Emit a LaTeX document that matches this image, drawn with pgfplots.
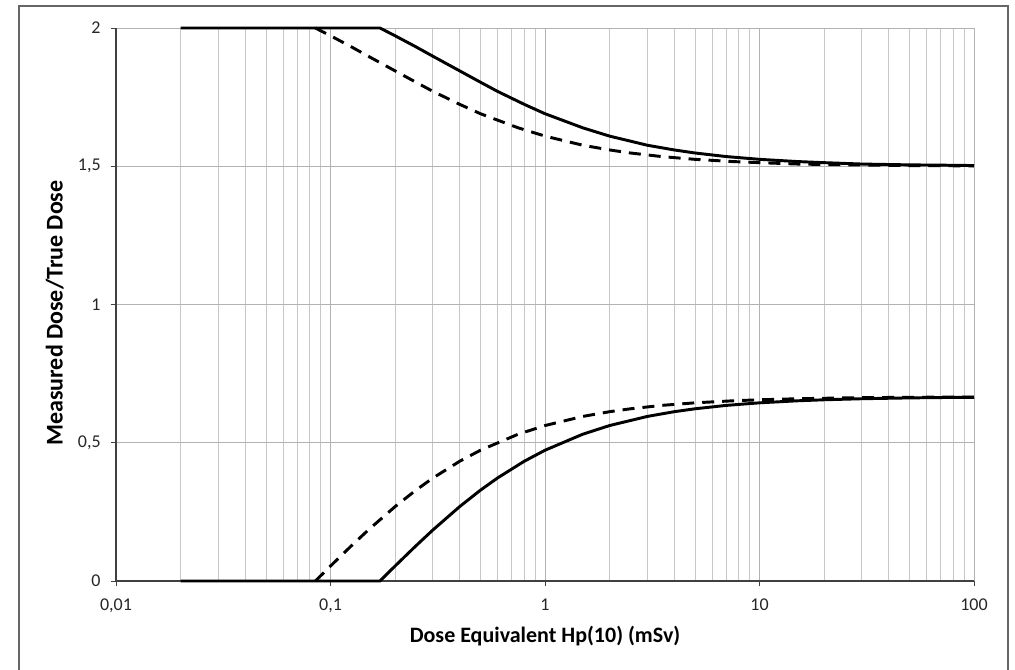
\documentclass[border=0pt]{standalone}
\usepackage{pgfplots}
\pgfplotsset{compat=1.18}
\usepackage{fontspec}
\setmainfont{Carlito}
\begin{document}
\begin{tikzpicture}
\useasboundingbox (0pt,0pt) rectangle (761.25pt,501.75pt);
\begin{scope}
\clip (0pt,0pt) rectangle (761.25pt,501.75pt);
\draw[gray!80!black, line width=1.1pt] (14.25pt,-10pt) rectangle (756pt,497.25pt);
\end{scope}
\begin{axis}[
  at={(87pt,66pt)}, anchor=south west,
  scale only axis, width=643.5pt, height=414.75pt,
  xmode=log, xmin=0.01, xmax=100, ymin=0, ymax=2,
  axis x line*=bottom, axis y line*=left,
  axis line style={black!75, line width=0.8pt},
  xtick={0.01,0.1,1,10,100},
  xticklabels={0{,}01,0{,}1,1,10,100},
  ytick={0,0.5,1,1.5,2},
  yticklabels={0,{0,5},1,{1,5},2},
  tick align=outside, major tick length=4pt, minor tick length=0pt,
  tick style={black!75, line width=0.6pt},
  grid=both,
  major grid style={black!30, line width=0.6pt},
  minor grid style={black!22, line width=0.6pt},
  tick label style={font=\fontsize{13.5}{15}\selectfont, text=black!85},
  xticklabel style={yshift=-6pt},
  yticklabel style={xshift=-4pt},
  xlabel={Dose Equivalent Hp(10) (mSv)},
  ylabel={Measured Dose/True Dose},
  xlabel style={font=\fontsize{16.5}{19}\selectfont\bfseries, at={(axis description cs:0.5,-0.099)}, anchor=center},
  ylabel style={font=\fontsize{18}{20}\selectfont\bfseries, at={(axis description cs:-0.0715,0.4846)}, anchor=center},
  clip=false,
]
% solid, lower
\addplot[black, line width=2.2pt] coordinates {
(0.02,0) (0.17,0) (0.2,0.0541) (0.25,0.1270) (0.3,0.1844) (0.4,0.2690) (0.5,0.3284) (0.6,0.3723) (0.8,0.4330) (1,0.4729) (1.5,0.5309) (2,0.5622) (3,0.5952) (4,0.6123) (5,0.6228) (7,0.6351) (10,0.6444) (15,0.6517) (20,0.6554) (30,0.6592) (50,0.6622) (70,0.6635) (100,0.6644)};
% solid, upper
\addplot[black, line width=2.2pt] coordinates {
(0.02,2) (0.17,2) (0.2,1.972) (0.25,1.932) (0.3,1.898) (0.4,1.845) (0.5,1.804) (0.6,1.771) (0.8,1.724) (1,1.690) (1.5,1.639) (2,1.609) (3,1.576) (4,1.559) (5,1.548) (7,1.535) (10,1.525) (15,1.517) (20,1.513) (30,1.508) (50,1.505) (70,1.504) (100,1.5025)};
% dashed, lower
\addplot[black, line width=2.2pt, dash pattern=on 9pt off 6pt] coordinates {
(0.085,0) (0.1,0.0541) (0.125,0.1270) (0.15,0.1844) (0.2,0.2690) (0.25,0.3284) (0.3,0.3723) (0.4,0.4330) (0.5,0.4729) (0.75,0.5309) (1,0.5622) (1.5,0.5952) (2,0.6123) (2.5,0.6228) (3.5,0.6351) (5,0.6444) (7.5,0.6517) (10,0.6554) (15,0.6592) (25,0.6622) (35,0.6635) (50,0.6644) (100,0.6655)};
% dashed, upper
\addplot[black, line width=2.2pt, dash pattern=on 9pt off 6pt] coordinates {
(0.085,2) (0.1,1.972) (0.125,1.932) (0.15,1.898) (0.2,1.845) (0.25,1.804) (0.3,1.771) (0.4,1.724) (0.5,1.690) (0.75,1.639) (1,1.609) (1.5,1.576) (2,1.559) (2.5,1.548) (3.5,1.535) (5,1.525) (7.5,1.517) (10,1.513) (15,1.508) (25,1.505) (35,1.504) (50,1.5025) (100,1.5013)};
\end{axis}
\end{tikzpicture}
\end{document}
